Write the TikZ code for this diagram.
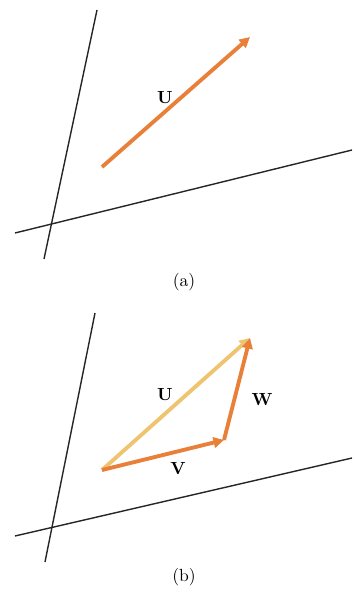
\documentclass[tikz,border=0pt]{standalone}
\usepackage{amsmath, amssymb}
\usepackage{xcolor}
\usepackage{tikz}
\usetikzlibrary{arrows.meta}

\definecolor{vecorange}{RGB}{232,128,58}
\definecolor{veclight}{RGB}{238,196,112}

\tikzset{
  axis/.style={thick, black!85},
  vec/.style={line width=2.2pt, vecorange, -{Triangle[length=6pt,width=6pt]}},
  veclt/.style={line width=2.2pt, veclight, -{Triangle[length=6pt,width=6pt]}},
  lbl/.style={font=\bfseries}
}

\begin{document}
\begin{tikzpicture}[x=0.02cm, y=-0.02cm]
            \useasboundingbox (0,0) rectangle (355,592);
            % (a)
            \coordinate (ya1) at (97,10);
            \coordinate (ya2) at (44,259);
            \coordinate (xa1) at (15,233);
            \coordinate (xa2) at (352,150);
            \draw[axis] (ya1) -- (ya2);
            \draw[axis] (xa1) -- (xa2);
            \coordinate (pa) at (102,167);
            \coordinate (qa) at (250,37);
            \draw[vec] (pa) -- (qa);
            \node[lbl] (ua) at (165,98) {U};
            \node (capa) at (184,282) {(a)};
            % (b)
            \coordinate (yb1) at (95,313);
            \coordinate (yb2) at (45,562);
            \coordinate (xb1) at (15,536);
            \coordinate (xb2) at (352,458);
            \draw[axis] (yb1) -- (yb2);
            \draw[axis] (xb1) -- (xb2);
            \coordinate (o) at (102,470);
            \coordinate (p) at (224,440);
            \coordinate (q) at (250,338);
            \draw[veclt] (o) -- (q);
            \draw[vec] (o) -- (p);
            \draw[vec] (p) -- (q);
            \node[lbl] (ub) at (165,395) {U};
            \node[lbl] (wb) at (262,400) {W};
            \node[lbl] (vb) at (178,469) {V};
            \node (capb) at (184,577) {(b)};
        \end{tikzpicture}
\end{document}
